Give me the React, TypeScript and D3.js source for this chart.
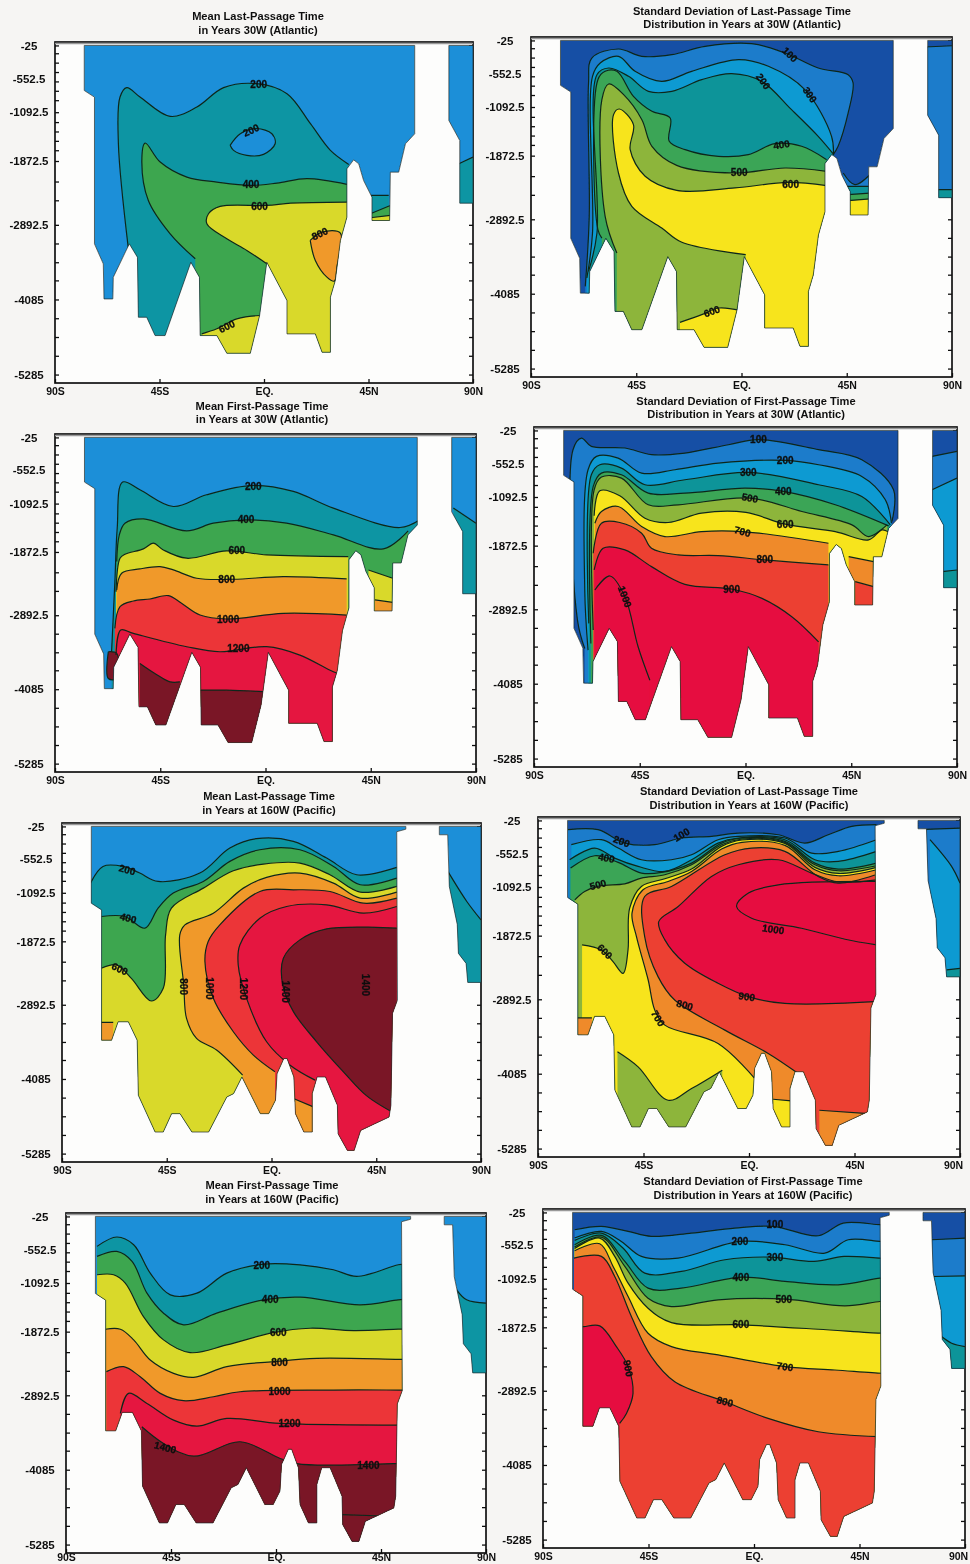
import React, { useEffect, useRef } from 'react';
import * as d3 from 'd3';

type Pt = [number, number];
type Label = [number, number, string, number];

// axes
const DEPTH_TICKS = [25, 552.5, 1092.5, 1872.5, 2892.5, 4085, 5285];
const MINOR_DEPTHS = [25, 150, 300, 450, 600, 750, 900, 1092, 1250, 1400, 1550, 1700, 1872, 2200, 2500, 2892, 3190, 3490, 3780, 4085, 4385, 4685, 4985, 5285];
const LAT_TICKS = [-90, -45, 0, 45, 90];
const LAT_NAMES = ['90S', '45S', 'EQ.', '45N', '90N'];

// sea floor, [lat, depth]
const atlanticFloor: Pt[] = [[-77.4, 25], [64.9, 25], [64.9, 1437], [60.9, 1597], [58, 2050], [54.4, 2050], [54.1, 2823], [46.5, 2823], [46.5, 2450], [42.9, 2184], [40.8, 1917], [38.6, 1853], [35.7, 1997], [35.7, 2770], [32.9, 3143], [30.7, 3783], [28.6, 4049], [28.6, 4929], [25, 4929], [22.1, 4635], [9.9, 4635], [9.9, 4102], [1.2, 3490], [-1.9, 4342], [-5.9, 4945], [-16, 4945], [-20.3, 4662], [-27.5, 4662], [-27.8, 3730], [-31.5, 3490], [-42.6, 4662], [-46.9, 4662], [-50.5, 4369], [-54.1, 4369], [-54.5, 3410], [-58, 3196], [-64.9, 3730], [-65.1, 4076], [-68.9, 4076], [-69.2, 3516], [-73, 3196], [-73, 851], [-77.4, 745]];
const atlanticNorth: Pt[] = [[79.6, 25], [90, 25], [90, 2546], [84.3, 2546], [84.3, 1544], [79.6, 1224]];
const pacificFloor: Pt[] = [[-77.4, 25], [57.7, 25], [57.7, 70], [53.8, 110], [54.1, 2817], [52, 3030], [51.3, 4509], [50.5, 4697], [38.3, 4912], [35.5, 5234], [32.6, 5234], [28.6, 4965], [28.3, 4509], [23.2, 4053], [19.6, 4053], [17.5, 4321], [17.5, 4938], [13.9, 4938], [10.3, 4643], [9.6, 4053], [6.7, 3757], [5.3, 3757], [2.4, 3999], [1.7, 4428], [-1.2, 4643], [-4.8, 4643], [-12.7, 4053], [-16.3, 4321], [-19.2, 4375], [-27, 4938], [-34.2, 4938], [-39.3, 4643], [-42.9, 4643], [-46.5, 4938], [-50, 4938], [-57.2, 4348], [-57.7, 3462], [-61.5, 3166], [-65.9, 3166], [-68.7, 3462], [-73, 3462], [-73, 1367], [-77.4, 1260]];
const pacificNorth: Pt[] = [[72.1, 25], [90, 25], [90, 2533], [84.3, 2533], [83.6, 2227], [80.3, 2066], [79.8, 1600], [76.4, 992], [75.7, 159], [72.1, 159]];

// mean last-passage time, 30W
const p1Lines: Pt[][] = [
  [[-58.4, 3275], [-62.7, 1596], [-62, 849], [-59.1, 700], [-53.4, 849], [-40.4, 1159], [-28.9, 1009], [-17.4, 700], [-3.1, 636], [9.9, 796], [20, 1276], [28.6, 1702], [36.5, 1926]],
  [[-14.6, 1622], [-10.2, 1436], [-3.1, 1356], [3.4, 1436], [4.8, 1596], [-0.2, 1766], [-7.4, 1782], [-13.1, 1702], [-14.6, 1622]],
  [[-29.6, 3434], [-40.4, 3035], [-49.8, 2502], [-52.6, 1862], [-51.2, 1585], [-44.7, 1889], [-33.2, 2129], [-20.3, 2209], [-5.9, 2262], [5.6, 2225], [18.5, 2155], [35.7, 2246]],
  [[1.2, 3514], [-7.4, 3301], [-16, 3115], [-24.6, 2875], [-23.9, 2715], [-18.9, 2598], [1.2, 2582], [11.6, 2545], [35.7, 2528]],
  [[-26.8, 4634], [-20.3, 4554], [-11.7, 4394], [-1.6, 4341]],
  [[19.9, 3141], [25, 3008], [32.9, 3024], [31.4, 3568], [30.3, 3792], [27.1, 3728], [22.1, 3461], [19.9, 3141]],
  [[45.8, 2422], [53.7, 2422]],
  [[45.8, 2715], [54.4, 2582]],
  [[45.8, 2779], [54.4, 2742]],
  [[83.9, 1915], [90, 1809]],
];
const p1Fills = ['teal', 'blue', 'green', 'yellow', 'yellow', 'orange', 'teal', 'green', 'yellow', 'teal'];
const p1Labels: Label[] = [[-2.3, 652, '200', 0], [-5.6, 1382, '200', -25], [-5.6, 2246, '400', 0], [-1.9, 2598, '600', 0], [24, 3035, '800', -25], [-16, 4516, '600', -25]];

// sd of last-passage time, 30W
const p2Lines: Pt[][] = [
  [[-66.8, 3967], [-65.1, 2845], [-65.4, 707], [-64, 307], [-52.6, 162], [-42.6, 280], [-29.8, 253], [-15.6, 120], [4.3, 77], [18.6, 226], [32.8, 467], [45.6, 574], [47.7, 707], [45.6, 1188], [41.3, 1722], [39.2, 1856]],
  [[-66.1, 3833], [-63.7, 3112], [-63.7, 600], [-60.4, 387], [-52.6, 280], [-45.5, 520], [-34.1, 681], [-21.3, 520], [-1.3, 333], [11.5, 440], [27.1, 814], [38.5, 1562], [39.3, 1856]],
  [[-65.4, 3726], [-61.8, 3112], [-61.8, 574], [-56.8, 467], [-48.3, 600], [-39.8, 841], [-29.8, 841], [-17, 654], [-4.2, 558], [8.6, 681], [21.4, 1135], [32.8, 1562], [39.5, 1856]],
  [[-59.7, 3192], [-61.4, 3058], [-61.4, 654], [-58.3, 520], [-53.3, 520], [-46.2, 921], [-38.3, 1161], [-30.5, 1268], [-30.9, 1642], [-24.1, 1776], [-9.9, 1883], [2.9, 1856], [14.3, 1680], [25.7, 1722], [36.4, 1936]],
  [[-53.3, 3432], [-58.3, 2845], [-59.7, 974], [-56.8, 723], [-50.4, 894], [-42.6, 1295], [-38.3, 1722], [-27.7, 2027], [-2.8, 2150], [18.6, 2070], [36.4, 2123]],
  [[1.8, 3459], [-25.5, 3261], [-34.1, 3032], [-46.9, 2684], [-52.6, 2150], [-54.7, 1215], [-52.3, 1124], [-46.2, 1375], [-47.6, 1776], [-41.2, 2203], [-27.7, 2428], [-2.8, 2390], [20, 2300], [36.4, 2353]],
  [[-26.3, 4544], [-17, 4421], [-9.9, 4314], [-0.6, 4351]],
  [[43.5, 2150], [48.5, 2337], [56.3, 2123]],
  [[44.9, 2364], [56.3, 2364]],
  [[45.6, 2497], [56.3, 2470]],
  [[45.6, 2593], [56.3, 2561]],
  [[78.3, 130], [90, 110]],
  [[82.6, 2417], [90, 2417]],
];
const p2Fills = ['blue', 'sky', 'teal', 'green', 'lime', 'yellow', 'yellow', 'blue', 'teal', 'green', 'yellow', 'blue', 'teal'];
const p2Labels: Label[] = [[20.7, 253, '100', 45], [9.3, 681, '200', 55], [29.2, 895, '300', 55], [17.1, 1696, '400', -10], [-1, 2139, '500', 0], [21, 2337, '600', 0], [-12.7, 4367, '600', -20]];

// mean first-passage time, 30W
const p3Lines: Pt[][] = [
  [[-65.8, 3481], [-64.4, 2350], [-63.4, 1489], [-61.1, 745], [-53.7, 869], [-39.4, 1139], [-25.2, 950], [-5.2, 799], [11.9, 896], [29, 1165], [57.5, 1478], [66, 1354]],
  [[-63.6, 2027], [-62.5, 1596], [-60.1, 1408], [-52.2, 1338], [-33.7, 1532], [-22.3, 1408], [-8.1, 1354], [9, 1408], [29, 1596], [50.4, 1822], [61, 1532]],
  [[-63.9, 2512], [-62.2, 1973], [-60.1, 1909], [-52.2, 1822], [-48, 1731], [-43.7, 1839], [-33.7, 1973], [-16.6, 1855], [0.5, 1919], [35.4, 1946]],
  [[-63.6, 2485], [-61.5, 2216], [-53.7, 2146], [-45.1, 2108], [-39.4, 2162], [-29.4, 2296], [-13.8, 2312], [7.6, 2269], [34.7, 2307]],
  [[-64.4, 3104], [-62.2, 2754], [-56.5, 2663], [-49.4, 2630], [-41.5, 2576], [-35.9, 2700], [-28, 2889], [-16.6, 2953], [7.6, 2862], [34.7, 2889]],
  [[-63.9, 3535], [-61.9, 3131], [-56.5, 3185], [-33.7, 3400], [-19.5, 3481], [0.5, 3400], [14.7, 3535], [29, 3804], [33.3, 3858]],
  [[-67.2, 3481], [-63.6, 3508], [-63.6, 3912], [-67.2, 3912], [-67.2, 3481]],
  [[-53.7, 3670], [-47.3, 3831], [-40.8, 3966], [-36.6, 3966]],
  [[-28, 4100], [-16.6, 4100], [0.5, 4127]],
  [[44, 2162], [54.4, 2296]],
  [[46.8, 2646], [54.4, 2684]],
  [[80.3, 1165], [90, 1408]],
];
const p3Fills = ['teal', 'green', 'yellow', 'orange', 'red', 'crimson', 'maroon', 'maroon', 'maroon', 'yellow', 'orange', 'teal'];
const p3Labels: Label[] = [[-5.2, 823, '200', 0], [-8.3, 1354, '400', 0], [-12.3, 1849, '600', 0], [-16.6, 2323, '800', 0], [-16, 2953, '1000', 0], [-11.6, 3427, '1200', 0]];

// sd of first-passage time, 30W
const p4Lines: Pt[][] = [
  [[-68.4, 3520], [-71.5, 3065], [-73.4, 334], [-69.8, 147], [-65.6, 280], [-51.3, 307], [-40, 414], [-25.8, 388], [-7.3, 254], [5.5, 173], [31.1, 334], [49.5, 495], [63, 977], [62.3, 1485]],
  [[-67, 3547], [-68.4, 2583], [-67, 655], [-63.4, 441], [-54.2, 468], [-44.2, 709], [-30, 655], [-11.6, 548], [16.9, 505], [31.1, 575], [49.5, 762], [59.5, 1137], [62.1, 1512]],
  [[-66.7, 3118], [-65.6, 736], [-62, 575], [-52.8, 629], [-42.8, 896], [-25.8, 816], [1.2, 698], [31.1, 896], [49.5, 1084], [61.6, 1539]],
  [[-65.8, 3440], [-64.8, 923], [-61.3, 709], [-52.8, 736], [-41.4, 1030], [-25.8, 1030], [-0.2, 950], [16.1, 1003], [38.2, 1217], [60.9, 1555]],
  [[-64.8, 3225], [-64.4, 976], [-61.3, 773], [-52.8, 789], [-41.4, 1217], [-28.6, 1217], [1.9, 1110], [24, 1325], [45.3, 1539], [52.4, 1726], [60.2, 1539]],
  [[-64.4, 1394], [-62, 993], [-53.5, 1073], [-42.8, 1432], [-32.9, 1501], [-18.7, 1351], [0.2, 1340], [16.9, 1528], [38.2, 1646], [52.4, 1780], [58.1, 1619], [61.6, 1673]],
  [[-64.1, 1512], [-61.3, 1325], [-54.2, 1244], [-44.2, 1565], [-34.3, 1726], [-18.7, 1646], [-1.3, 1646], [35.3, 1833]],
  [[-64.8, 1994], [-61.3, 1512], [-53.5, 1501], [-44.2, 1673], [-40, 1914], [-28.6, 2020], [-11.6, 2031], [8.2, 2101], [35.3, 2181]],
  [[-64.4, 2262], [-60.6, 1914], [-51.3, 1940], [-40, 2208], [-25.8, 2492], [-5.9, 2567], [7, 2717], [19.7, 3011], [31.1, 3413]],
  [[-64.1, 2583], [-57.7, 2358], [-51.3, 2690], [-45.7, 3493], [-40.7, 4029]],
  [[43.9, 2047], [54.5, 2128]],
  [[46.7, 2449], [54.5, 2529]],
  [[79.4, 441], [90, 361]],
  [[79.4, 977], [90, 789]],
  [[83.6, 2288], [90, 2262]],
];
const p4Fills = ['blue', 'sky', 'teal', 'green', 'lime', 'yellow', 'orange', 'redor', 'crimson', 'crimson', 'orange', 'redor', 'blue', 'sky', 'teal'];
const p4Labels: Label[] = [[5.5, 173, '100', 0], [16.9, 505, '200', 0], [1.2, 698, '300', 0], [16.1, 1003, '400', 0], [1.9, 1110, '500', 10], [16.9, 1528, '600', 0], [-1.3, 1646, '700', 15], [8.2, 2101, '800', 0], [-5.9, 2567, '900', 0], [-51.3, 2690, '1000', 70]];

// mean last-passage time, 160W
const p5Lines: Pt[][] = [
  [[-78.1, 963], [-72.4, 668], [-63.8, 668], [-56.6, 775], [-48.7, 910], [-30.8, 775], [-17.9, 373], [-6.4, 222], [9.4, 265], [23.7, 534], [36.6, 802], [53.8, 684]],
  [[-73.1, 1473], [-63, 1473], [-54.4, 1661], [-48.7, 1339], [-42.2, 1097], [-29.3, 910], [-17.9, 587], [-5, 400], [12.2, 400], [26.6, 668], [38.1, 963], [53.8, 856]],
  [[-73.1, 2306], [-66.6, 2252], [-60.2, 2467], [-51.6, 2832], [-46.5, 2628], [-45.5, 1769], [-43, 1339], [-29.3, 1017], [-16.4, 738], [-3.5, 630], [12.2, 614], [25.1, 802], [38.1, 1081], [53.8, 990]],
  [[-12.4, 4024], [-23.6, 3621], [-32.2, 3433], [-36.5, 3111], [-37.7, 2574], [-39.4, 1769], [-37.2, 1608], [-25, 1420], [-12.1, 1017], [-2.1, 845], [12.2, 775], [26.6, 936], [38.1, 1178], [53.8, 1081]],
  [[1.5, 3970], [-7.8, 3701], [-16.4, 3326], [-25, 2789], [-28.6, 2198], [-27.2, 1876], [-22.2, 1608], [-5, 1071], [9.4, 1044], [25.1, 1071], [39.5, 1259], [53.8, 1178]],
  [[18.7, 4104], [8, 3863], [-2.1, 3487], [-10.7, 2789], [-14.3, 2252], [-13.6, 1930], [-5, 1500], [6.5, 1312], [23.7, 1285], [39.5, 1420], [53.8, 1312]],
  [[9.4, 4399], [18, 4534]],
  [[52, 4620], [40.9, 4357], [30.9, 3970], [19.4, 3487], [9.4, 3003], [4.8, 2574], [5.1, 2144], [12.2, 1849], [23.7, 1672], [53.8, 1661]],
  [[-74, 3175], [-68, 3175]],
  [[75, 700], [83.9, 1232], [90, 1527]],
];
const p5Fills = ['teal', 'green', 'yellow', 'orange', 'red', 'crimson', 'orange', 'maroon', 'orange', 'teal'];
const p5Labels: Label[] = [[-62, 722, '200', 15], [-61.6, 1500, '400', 15], [-65.2, 2316, '600', 25], [-37.9, 2601, '800', 90], [-26.5, 2628, '1000', 90], [-12.1, 2638, '1200', 90], [6.2, 2681, '1400', 90], [40.5, 2574, '1400', 90]];

// sd of last-passage time, 160W
const p6Lines: Pt[][] = [
  [[-77.2, 173], [-64.4, 173], [-53, 388], [-40.2, 414], [-28.8, 307], [-16, 280], [-4.6, 227], [12.5, 254], [23.8, 388], [33.8, 254], [43.8, 120], [54.4, 93]],
  [[-75.8, 414], [-63, 334], [-55.8, 468], [-45.9, 655], [-33.1, 655], [-24.5, 575], [-13.2, 334], [-4.6, 280], [15.3, 307], [26.7, 548], [38.1, 521], [54.4, 334]],
  [[-76.5, 655], [-65.8, 468], [-57.3, 629], [-47.3, 762], [-35.9, 843], [-24.5, 655], [-13.2, 388], [-4.6, 307], [15.3, 334], [28.1, 655], [38.1, 681], [54.4, 521]],
  [[-76.1, 789], [-65.8, 591], [-55.8, 698], [-45.9, 869], [-37.3, 859], [-24.5, 709], [-11.7, 388], [-3, 307], [15.3, 361], [28.1, 709], [38.1, 805], [54.4, 709]],
  [[-74.3, 1298], [-70.1, 1164], [-63.7, 1073], [-53, 1041], [-45.9, 950], [-35.9, 896], [-24.5, 736], [-11.7, 414], [-3, 323], [15.3, 377], [28.1, 736], [38.1, 832], [54.4, 752]],
  [[-71.2, 2020], [-63, 2101], [-58, 2288], [-53.7, 2476], [-51.6, 2101], [-50.9, 1432], [-45.9, 1084], [-35.9, 960], [-24.5, 805], [-11.7, 441], [-3, 339], [15.3, 393], [28.1, 778], [38.1, 875], [54.4, 778]],
  [[-56.1, 3734], [-47.3, 3975], [-34.5, 4510], [-24.5, 4323], [-11.4, 4028]],
  [[-74, 3190], [-67, 3190]],
  [[2.5, 4162], [-13.2, 3600], [-35.9, 3306], [-40.2, 3065], [-43, 2583], [-48, 1887], [-49.9, 1512], [-45.2, 1137], [-34.5, 1003], [-24.5, 843], [-11.7, 484], [-3, 377], [15.3, 425], [28.1, 816], [38.1, 912], [54.4, 816]],
  [[21, 4082], [8.2, 3760], [-10.3, 3386], [-31.7, 2904], [-38.8, 2529], [-44.5, 1887], [-44.5, 1244], [-33.1, 1084], [-10.3, 575], [1.1, 468], [15.3, 521], [29.5, 923], [38.1, 1030], [53.7, 900]],
  [[10.3, 4494], [18.1, 4521]],
  [[30, 4671], [50.9, 4725]],
  [[53.7, 2931], [15.3, 2958], [-0.4, 2850], [-13.2, 2636], [-27.4, 2315], [-35.9, 1940], [-38.5, 1646], [-30.2, 1405], [-16, 923], [-4.6, 736], [12.5, 655], [26.7, 869], [38.1, 1010], [54.4, 977]],
  [[54.4, 2021], [41, 1930], [22.4, 1753], [1.1, 1592], [-5.3, 1405], [-0.4, 1191], [12.5, 1057], [54.4, 1003]],
  [[72.2, 173], [90, 147]],
  [[77.2, 334], [86.4, 762], [90, 1030]],
  [[84.3, 2422], [90, 2395]],
];
const p6Fills = ['blue', 'sky', 'teal', 'green', 'lime', 'yellow', 'lime', 'orange', 'orange', 'redor', 'yellow', 'orange', 'crimson', 'crimson', 'blue', 'sky', 'teal'];
const p6Labels: Label[] = [[-28.8, 254, '100', -30], [-54.4, 361, '200', 20], [-60.8, 629, '400', 10], [-64.4, 1057, '500', -15], [-61.5, 2128, '600', 45], [-38.8, 3198, '700', 60], [-27.4, 2984, '800', 15], [-1, 2850, '900', 8], [10.3, 1769, '1000', 8]];

// mean first-passage time, 160W
const p7Lines: Pt[][] = [
  [[-76.7, 505], [-68.2, 355], [-61, 479], [-53.9, 934], [-45.3, 1282], [-33.9, 1255], [-21.1, 934], [-5.4, 789], [10.3, 800], [24.6, 880], [34.6, 987], [52.4, 800], [57, 780]],
  [[-76.7, 666], [-68.2, 586], [-61.7, 746], [-55.3, 1255], [-48.2, 1576], [-39.6, 1764], [-25.4, 1576], [-5.4, 1362], [10.3, 1319], [36, 1442], [52.4, 1362], [57, 1350]],
  [[-76.7, 960], [-69.6, 960], [-64.6, 1094], [-56.8, 1630], [-48.2, 2004], [-36.8, 2208], [-21.1, 2085], [-1.1, 1887], [14.6, 1817], [33.2, 1855], [52.4, 1833], [57, 1830]],
  [[-73.1, 1833], [-66.7, 1833], [-61, 2004], [-53.9, 2326], [-43.9, 2540], [-35.3, 2604], [-21.1, 2433], [-1.1, 2353], [17.5, 2299], [52.4, 2315], [57, 2315]],
  [[-72.7, 2513], [-65.3, 2433], [-58.2, 2594], [-49.6, 2861], [-39.6, 2979], [-26.8, 2915], [-15.4, 2835], [24.6, 2808], [53.1, 2808], [57, 2808]],
  [[-66.7, 3182], [-63.2, 2861], [-55.3, 3022], [-43.9, 3290], [-33.9, 3386], [-21.1, 3263], [1.8, 3343], [51.7, 3370], [57, 3370]],
  [[-57.5, 3397], [-48.2, 3664], [-35.3, 3868], [-15.4, 3637], [1.8, 3905], [8.9, 3986], [24.6, 4012], [50.3, 3986], [57, 3986]],
  [[28.2, 4805], [48.8, 4831]],
  [[77.4, 1202], [81.7, 1362], [90, 1416]],
];
const p7Fills = ['teal', 'green', 'yellow', 'orange', 'red', 'crimson', 'maroon', 'maroon', 'teal'];
const p7Labels: Label[] = [[-6.1, 816, '200', 0], [-2.5, 1362, '400', 0], [1, 1887, '600', 0], [1.5, 2363, '800', 0], [1.5, 2835, '1000', 0], [5.8, 3343, '1200', 0], [-47.5, 3729, '1400', 15], [39.6, 4023, '1400', 0]];

// sd of first-passage time, 160W
const p8Lines: Pt[][] = [
  [[-76.5, 303], [-65.1, 249], [-53.7, 330], [-43.8, 410], [-26.7, 357], [-8.2, 276], [8.2, 249], [27.4, 400], [38.1, 196], [53.7, 222], [57, 222]],
  [[-76.5, 437], [-65.1, 330], [-56.6, 491], [-48, 732], [-32.4, 759], [-6, 491], [13.2, 545], [30.2, 679], [40.2, 464], [53.7, 491], [57, 491]],
  [[-76.5, 475], [-65.1, 357], [-55.9, 598], [-46.6, 1001], [-31, 974], [-12.4, 786], [7.1, 743], [25.6, 813], [38.4, 732], [53.7, 759], [57, 759]],
  [[-76.5, 545], [-65.1, 394], [-55.1, 813], [-45.2, 1242], [-31, 1242], [-5.3, 1065], [13.2, 1135], [35.9, 1189], [53.7, 1081], [57, 1081]],
  [[-76.5, 582], [-65.1, 421], [-55.1, 893], [-45.2, 1404], [-35.2, 1538], [-15.3, 1430], [13.2, 1420], [38.8, 1527], [53.7, 1457], [57, 1457]],
  [[-76.5, 604], [-65.8, 437], [-59.4, 732], [-53.7, 1162], [-45.2, 1565], [-35.2, 1796], [-5.3, 1833], [27.4, 1903], [53.7, 1967], [57, 1967]],
  [[-76.5, 641], [-65.8, 528], [-60.1, 893], [-53.7, 1377], [-45.2, 1967], [-35.2, 2182], [-15.3, 2316], [13.2, 2504], [34.5, 2558], [54.4, 2611], [57, 2611]],
  [[-76.8, 759], [-65.1, 732], [-59.4, 1055], [-52.3, 1699], [-43.8, 2343], [-33.8, 2746], [-12.4, 3068], [6, 3336], [27.4, 3551], [53, 3630]],
  [[-74, 1860], [-72.5, 1860], [-65.8, 1849], [-58.7, 2182], [-53.7, 2504], [-51.6, 2934], [-54.4, 3256], [-57.3, 3417]],
  [[75.8, 464], [90, 437]],
  [[76.5, 1055], [90, 1044]],
  [[80, 2021], [84.3, 2128], [90, 2182]],
];
const p8Fills = ['blue', 'sky', 'teal', 'green', 'lime', 'yellow', 'orange', 'redor', 'crimson', 'blue', 'sky', 'teal'];
const p8Labels: Label[] = [[8.9, 222, '100', 0], [-6, 491, '200', 0], [8.9, 743, '300', 0], [-5.6, 1065, '400', 0], [12.7, 1430, '500', 0], [-5.6, 1833, '600', 0], [13.2, 2504, '700', 8], [-12.4, 3068, '800', 15], [-53.7, 2531, '900', 80]];

const MEAN_COLORS: Record<string, string> = {
  blue: '#1a8fd8', teal: '#0f95a3', green: '#3da650', yellow: '#d9d92a',
  orange: '#f0992c', red: '#ec3437', crimson: '#e5133f', maroon: '#7a1626',
};
const SD_COLORS: Record<string, string> = {
  navy: '#1450a5', blue: '#1a7ccb', sky: '#0f9ad2', teal: '#0f9499', green: '#3aa556',
  lime: '#8db53a', yellow: '#f7e41a', orange: '#ef8a2b', redor: '#ec4030', crimson: '#e6103f',
};

const panels = [
  { title: ['Mean Last-Passage Time', 'in Years 30W (Atlantic)'], tx: 258, ty: [20, 34], box: [55, 473, 42, 383], floor: atlanticFloor, north: atlanticNorth, base: 'blue', colors: MEAN_COLORS, lines: p1Lines, fills: p1Fills, labels: p1Labels },
  { title: ['Standard Deviation of Last-Passage Time', 'Distribution in Years at 30W (Atlantic)'], tx: 742, ty: [15, 28], box: [531, 952, 37, 377], floor: atlanticFloor, north: atlanticNorth, base: 'navy', colors: SD_COLORS, lines: p2Lines, fills: p2Fills, labels: p2Labels },
  { title: ['Mean First-Passage Time', 'in Years at 30W (Atlantic)'], tx: 262, ty: [410, 423], box: [55, 476, 434, 772], floor: atlanticFloor, north: atlanticNorth, base: 'blue', colors: MEAN_COLORS, lines: p3Lines, fills: p3Fills, labels: p3Labels },
  { title: ['Standard Deviation of First-Passage Time', 'Distribution in Years at 30W (Atlantic)'], tx: 746, ty: [405, 418], box: [534, 957, 427, 767], floor: atlanticFloor, north: atlanticNorth, base: 'navy', colors: SD_COLORS, lines: p4Lines, fills: p4Fills, labels: p4Labels },
  { title: ['Mean Last-Passage Time', 'in Years at 160W (Pacific)'], tx: 269, ty: [800, 814], box: [62, 481, 823, 1162], floor: pacificFloor, north: pacificNorth, base: 'blue', colors: MEAN_COLORS, lines: p5Lines, fills: p5Fills, labels: p5Labels },
  { title: ['Standard Deviation of Last-Passage Time', 'Distribution in Years at 160W (Pacific)'], tx: 749, ty: [795, 809], box: [538, 960, 817, 1157], floor: pacificFloor, north: pacificNorth, base: 'navy', colors: SD_COLORS, lines: p6Lines, fills: p6Fills, labels: p6Labels },
  { title: ['Mean First-Passage Time', 'in Years at 160W (Pacific)'], tx: 272, ty: [1189, 1203], box: [66, 486, 1213, 1553], xPad: 1, floor: pacificFloor, north: pacificNorth, base: 'blue', colors: MEAN_COLORS, lines: p7Lines, fills: p7Fills, labels: p7Labels },
  { title: ['Standard Deviation of First-Passage Time', 'Distribution in Years at 160W (Pacific)'], tx: 753, ty: [1185, 1199], box: [543, 965, 1209, 1548], floor: pacificFloor, north: pacificNorth, base: 'navy', colors: SD_COLORS, lines: p8Lines, fills: p8Fills, labels: p8Labels },
];

const FONT = '"Liberation Sans", Arial, sans-serif';

function Panel({ p, id }: { p: any; id: number }) {
  const axesRef = useRef<SVGGElement>(null);
  const [left, right, top, bottom] = p.box;
  const x = d3.scaleLinear().domain([-90, 90]).range([left, right]);
  const y = d3.scaleLinear().domain([-30, 5420]).range([top, bottom]);
  const contour = d3.line<Pt>().x(d => x(d[0])).y(d => y(d[1])).curve(d3.curveCatmullRom.alpha(0.5));
  const outline = d3.line<Pt>().x(d => x(d[0])).y(d => y(d[1]));

  useEffect(() => {
    const g = d3.select(axesRef.current);
    g.selectAll('*').remove();
    const yLabels = g.append('g').attr('transform', `translate(${left},0)`)
      .call(d3.axisLeft(y).tickValues(DEPTH_TICKS).tickSize(0).tickFormat(d => `-${d}`));
    yLabels.select('.domain').remove();
    const yMinor = g.append('g').attr('transform', `translate(${left},0)`)
      .call(d3.axisLeft(y).tickValues(MINOR_DEPTHS).tickSize(-4).tickFormat(() => ''));
    yMinor.select('.domain').remove();
    const yRight = g.append('g').attr('transform', `translate(${right},0)`)
      .call(d3.axisRight(y).tickValues(MINOR_DEPTHS).tickSize(-4).tickFormat(() => ''));
    yRight.select('.domain').remove();
    const xAxis = g.append('g').attr('transform', `translate(0,${bottom})`)
      .call(d3.axisBottom(x).tickValues(LAT_TICKS).tickSize(-4).tickPadding(p.xPad ?? 5).tickFormat((_, i) => LAT_NAMES[i]));
    xAxis.select('.domain').remove();
    g.selectAll('line').attr('stroke', '#111').attr('stroke-width', 1.3);
    g.selectAll('text').attr('font-family', FONT).attr('font-size', 10.5).attr('font-weight', 700).attr('fill', '#111');
    yLabels.selectAll('text').attr('text-anchor', 'middle').attr('x', -26).attr('font-size', 11.5);
    // the last label of the right column would run off the page
    xAxis.selectAll('text').attr('dx', (d: any) => (x(d) + 11 > 970 ? -7 : 0));
  }, []);

  const clipId = `ocean-${id}`;
  const oceanPath = `${outline(p.floor)}Z${outline(p.north)}Z`;
  const fillPath = (pts: Pt[]) => {
    const first = pts[0];
    const last = pts[pts.length - 1];
    if (first[0] === last[0] && first[1] === last[1]) return `${contour(pts)}Z`;
    return `${contour(pts)}L${x(last[0])},${y(5600)}L${x(first[0])},${y(5600)}Z`;
  };

  return (
    <g>
      <clipPath id={clipId}><path d={oceanPath} /></clipPath>
      {p.title.map((t: string, i: number) => (
        <text key={t} x={p.tx} y={p.ty[i]} textAnchor="middle" fontFamily={FONT} fontSize={11.1} fontWeight={700} fill="#111">{t}</text>
      ))}
      <rect x={left} y={top} width={right - left} height={bottom - top} fill="#fdfdfc" />
      <g ref={axesRef} />
      <rect x={left} y={top} width={right - left} height={bottom - top} fill="none" stroke="#111" strokeWidth={1.7} />
      <line x1={left} x2={right} y1={top + 1.5} y2={top + 1.5} stroke="#999" strokeWidth={1.4} />
      <g clipPath={`url(#${clipId})`}>
        <path d={oceanPath} fill={p.colors[p.base]} />
        {p.lines.map((pts: Pt[], i: number) => (
          <path key={i} d={fillPath(pts)} fill={p.colors[p.fills[i]]} />
        ))}
        {p.lines.map((pts: Pt[], i: number) => (
          <path key={i} d={contour(pts) as string} fill="none" stroke="#10281a" strokeWidth={1.2} />
        ))}
      </g>
      <path d={oceanPath} fill="none" stroke="#1d2a2a" strokeWidth={0.7} />
      {p.labels.map((l: Label, i: number) => (
        <text key={i} transform={`translate(${x(l[0])},${y(l[1])}) rotate(${l[3]})`} dy="0.35em" textAnchor="middle"
          fontFamily={FONT} fontSize={10} fontWeight={700} fill="#101010" stroke="#101010" strokeWidth={0.3}>{l[2]}</text>
      ))}
    </g>
  );
}

export default function App() {
  return (
    <svg width={970} height={1564} style={{ position: 'absolute', left: 0, top: 0, background: '#f6f5f3' }}>
      <defs>
        <filter id="scan" x="0" y="0" width="100%" height="100%">
          <feGaussianBlur stdDeviation="0.6" />
        </filter>
      </defs>
      <g filter="url(#scan)">
        <rect width={970} height={1564} fill="#f6f5f3" />
        {panels.map((p, i) => <Panel key={i} p={p} id={i} />)}
      </g>
    </svg>
  );
}
